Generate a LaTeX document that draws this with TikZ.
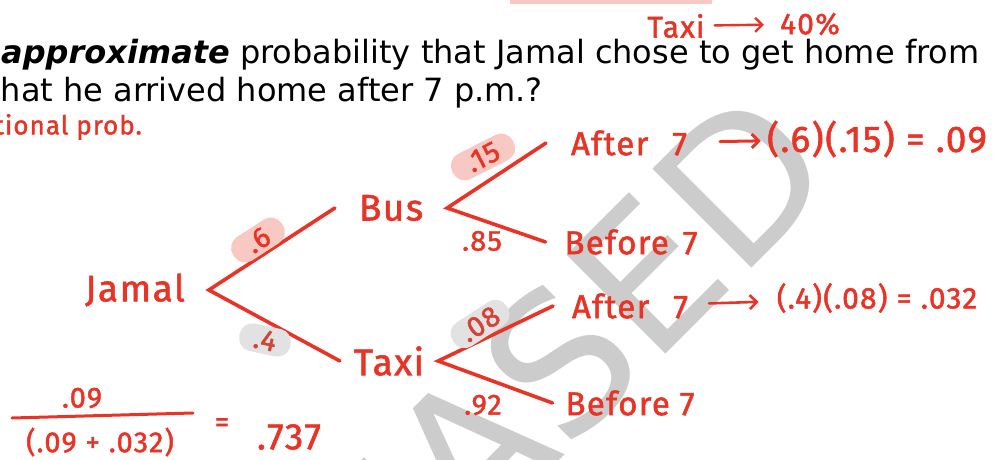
\documentclass[tikz,border=0pt]{standalone}
\usepackage{fontspec}
\setmainfont{DejaVu Sans}
\newfontfamily\handfont[LetterSpace=4,FakeBold=1.6]{Fira Sans}
\newfontfamily\markfont{DejaVu Sans}
\usetikzlibrary{positioning,arrows.meta}
\definecolor{inkred}{RGB}{232,52,38}
\definecolor{hlpink}{RGB}{248,200,194}
\definecolor{hlgrey}{RGB}{226,226,226}
\definecolor{wmgrey}{RGB}{204,204,204}
\tikzset{
  prose/.style  ={font=\fontsize{32}{38}\selectfont, inner sep=0pt, anchor=base west},
  hand/.style   ={font=\handfont\fontsize{37}{37}\selectfont, text=inkred, inner sep=0pt},
  leaf/.style   ={hand, font=\handfont\fontsize{33}{33}\selectfont},
  small/.style  ={font=\handfont\fontsize{29}{29}\selectfont, text=inkred, inner sep=0pt},
  prob/.style   ={small, rounded corners=13pt, minimum height=28pt},
  branch/.style ={draw=inkred, line width=3.6pt, line cap=round},
  ink/.style    ={-{Straight Barb[length=7pt,width=14pt]}, draw=inkred, line width=3pt, line cap=round},
  wmark/.style  ={font=\markfont\fontsize{192}{192}\selectfont, text=wmgrey, inner sep=0pt},
}
\begin{document}
\begin{tikzpicture}[x=1pt,y=-1pt]
\useasboundingbox (0,0) rectangle (997,460);
\clip (0,0) rectangle (997,460);
% watermark
\node[wmark,rotate=45,anchor=base east] (wm) at (843,177) {RELEASED};
% question text
\fill[hlpink] (510,-12) rectangle (712,4);
\node[prose] (qa) at (1,64) {\textbf{\textit{approximate}} probability that Jamal chose to get home from};
\node[prose] (qb) at (-12,102) {that he arrived home after 7 p.m.?};
\node[small,font=\handfont\fontsize{30}{30}\selectfont] (note) at (676,26) {Taxi};
\node[small,font=\handfont\fontsize{30}{30}\selectfont] (pct) at (810,24) {40\%};
\draw[ink,line width=2.4pt,shorten <=10pt,shorten >=16pt] (note) -- (pct);
\node[small,anchor=east,font=\handfont\fontsize{26}{26}\selectfont] (cond) at (142,127) {conditional prob.};
% tree
\node[hand,outer xsep=24pt] (jamal) at (135,290) {Jamal};
\node[hand,outer xsep=24pt] (bus) at (391,208) {Bus};
\node[hand,outer xsep=14pt] (taxi) at (389,361) {Taxi};
\node[leaf,outer xsep=25pt] (ba) at (629,143) {After\hspace{24pt}7};
\node[leaf,outer xsep=19pt] (bb) at (631,242) {Before\hspace{14pt}7};
\node[leaf,outer xsep=19pt] (ta) at (630,306) {After\hspace{24pt}7};
\node[leaf,outer xsep=13pt] (tb) at (630,403) {Before\hspace{10pt}7};
\draw[branch] (bus.west) -- (jamal.east) -- (taxi.west);
\draw[branch] (ba.west) -- (bus.east) -- (bb.west);
\draw[branch] (ta.west) -- (taxi.east) -- (tb.west);
\node[prob,fill=hlpink,rotate=33,minimum width=58pt] (p6) at (258,240) {.6};
\node[prob,fill=hlgrey,rotate=-12,minimum width=52pt,text=inkred!80!gray] (p4) at (265,340) {.4};
\node[prob,fill=hlpink,rotate=27,minimum width=68pt] (p15) at (483,157) {.15};
\node[small] (p85) at (482,241) {.85};
\node[prob,fill=hlgrey,rotate=33,minimum width=64pt,text=inkred!80!gray] (p08) at (480,324) {.08};
\node[small] (p92) at (483,405) {.92};
% products
\node[hand] (cb) at (877,139) {(.6)(.15) = .09};
\node[small,font=\handfont\fontsize{30}{30}\selectfont] (ct) at (877,298) {(.4)(.08) = .032};
\draw[ink,shorten <=8pt,shorten >=6pt] (ba) -- (cb);
\draw[ink,line width=2.6pt,shorten <=2pt,shorten >=18pt] (ta) -- (ct);
% answer
\node[small] (num) at (82,398) {.09};
\node[small] (den) at (100,442) {(.09 + .032)};
\draw[branch,line width=3pt] (12,418) -- (193,413);
\node[small] (eq) at (222,425) {=};
\node[hand] (res) at (289,437) {.737};
\end{tikzpicture}
\end{document}
